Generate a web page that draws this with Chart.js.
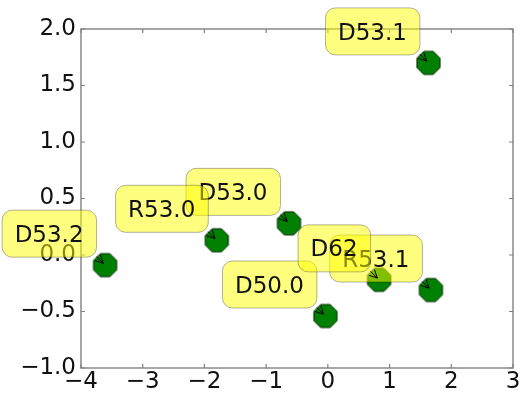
<!DOCTYPE html>
<html>
<head>
<meta charset="utf-8">
<script src="https://cdn.jsdelivr.net/npm/chart.js@4/dist/chart.umd.min.js"></script>
<style>
html,body{margin:0;padding:0;background:#fff;}
canvas{display:block;}
</style>
</head>
<body>
<canvas id="c" width="528" height="397"></canvas>
<script>
// ---- data ----
const labels = ['D53.1', 'D53.2', 'D53.0', 'R53.0', 'D50.0', 'R53.1', 'D62'];
const xValues = [1.63, -3.61, -0.63, -1.80, -0.04, 1.67, 0.83];
const yValues = [1.70, -0.09, 0.28, 0.13, -0.54, -0.31, -0.22];
const xTicks = [-4, -3, -2, -1, 0, 1, 2, 3];
const yTicks = [-1.0, -0.5, 0.0, 0.5, 1.0, 1.5, 2.0];

const FONT = 'DejaVu Sans';
const FSIZE = 23;

// octagon marker
function makeOctagon(r) {
  const s = Math.ceil(r * 2 + 4);
  const cv = document.createElement('canvas');
  cv.width = s; cv.height = s;
  const g = cv.getContext('2d');
  g.beginPath();
  for (let k = 0; k < 8; k++) {
    const a = (22.5 + 45 * k) * Math.PI / 180;
    const x = s / 2 + r * Math.cos(a), y = s / 2 + r * Math.sin(a);
    k === 0 ? g.moveTo(x, y) : g.lineTo(x, y);
  }
  g.closePath();
  g.fillStyle = '#008000';
  g.fill();
  g.lineWidth = 1;
  g.strokeStyle = '#0a2a0a';
  g.stroke();
  return cv;
}
const octagon = makeOctagon(12.5);

const fmt = v => String(v).replace('-', '\u2212');

const framePlugin = {
  id: 'frame',
  afterDatasetsDraw(chart) {
    const { ctx, chartArea: a, scales } = chart;
    ctx.save();
    ctx.strokeStyle = '#808080';
    ctx.lineWidth = 1.4;
    ctx.strokeRect(a.left, a.top, a.right - a.left, a.bottom - a.top);
    ctx.lineWidth = 1.2;
    const tl = 4;
    ctx.beginPath();
    xTicks.forEach(v => {
      const x = scales.x.getPixelForValue(v);
      ctx.moveTo(x, a.bottom); ctx.lineTo(x, a.bottom - tl);
      ctx.moveTo(x, a.top); ctx.lineTo(x, a.top + tl);
    });
    yTicks.forEach(v => {
      const y = scales.y.getPixelForValue(v);
      ctx.moveTo(a.left, y); ctx.lineTo(a.left + tl, y);
      ctx.moveTo(a.right, y); ctx.lineTo(a.right - tl, y);
    });
    ctx.stroke();

    // annotations
    const meta = chart.getDatasetMeta(0);
    ctx.font = FSIZE + 'px "' + FONT + '"';
    meta.data.forEach((el, i) => {
      const px = el.x, py = el.y;
      const txt = labels[i];
      const w = ctx.measureText(txt).width;
      const textRight = px - 21.5;
      const baseline = py - 23.4;
      const left = textRight - w - 12.5, right = px - 8.5;
      const top = py - 55, bottom = py - 8;
      // arrow from text anchor (bottom-right of text) to point, clipped by box
      const ox = px - 20, oy = py - 20;
      const dx = px - ox, dy = py - oy;
      const len = Math.hypot(dx, dy);
      const ux = dx / len, uy = dy / len;
      const t = Math.min((right - ox) / dx, (bottom - oy) / dy);
      const sx = ox + t * dx, sy = oy + t * dy;
      const ex = px - 2.5 * ux, ey = py - 2.5 * uy;
      ctx.strokeStyle = '#000';
      ctx.lineWidth = 1;
      ctx.beginPath();
      ctx.moveTo(sx, sy); ctx.lineTo(ex, ey);
      const hl = 8, hw = 4;
      const bx = ex - hl * ux, by = ey - hl * uy;
      ctx.moveTo(bx - hw * uy, by + hw * ux);
      ctx.lineTo(ex, ey);
      ctx.lineTo(bx + hw * uy, by - hw * ux);
      ctx.stroke();
      // box
      const r = 10;
      ctx.beginPath();
      ctx.moveTo(left + r, top);
      ctx.arcTo(right, top, right, bottom, r);
      ctx.arcTo(right, bottom, left, bottom, r);
      ctx.arcTo(left, bottom, left, top, r);
      ctx.arcTo(left, top, right, top, r);
      ctx.closePath();
      ctx.fillStyle = 'rgba(255,255,0,0.5)';
      ctx.fill();
      ctx.strokeStyle = 'rgba(0,0,0,0.3)';
      ctx.lineWidth = 1;
      ctx.stroke();
      ctx.fillStyle = '#111';
      ctx.textAlign = 'right';
      ctx.textBaseline = 'alphabetic';
      ctx.fillText(txt, textRight, baseline);
    });
    ctx.restore();
  }
};

Chart.defaults.font.family = FONT;
Chart.defaults.font.size = FSIZE;
Chart.defaults.color = '#111';

new Chart(document.getElementById('c'), {
  type: 'scatter',
  data: {
    datasets: [{
      data: xValues.map((x, i) => ({ x: x, y: yValues[i] })),
      pointStyle: octagon,
      pointRadius: 12.5,
      pointHoverRadius: 12.5
    }]
  },
  options: {
    responsive: false,
    animation: false,
    events: [],
    layout: { padding: { left: 0, right: 15, top: 29, bottom: 0 } },
    plugins: { legend: { display: false }, tooltip: { enabled: false } },
    scales: {
      x: {
        type: 'linear', min: -4, max: 3,
        afterBuildTicks: s => { s.ticks = xTicks.map(v => ({ value: v })); },
        afterFit: s => { s.height = 29; },
        grid: { display: false, drawTicks: false },
        border: { display: false },
        ticks: { padding: 0, maxRotation: 0, autoSkip: false, callback: v => fmt(v) }
      },
      y: {
        type: 'linear', min: -1, max: 2,
        afterBuildTicks: s => { s.ticks = yTicks.map(v => ({ value: v })); },
        afterFit: s => { s.width = 81; },
        grid: { display: false, drawTicks: false },
        border: { display: false },
        ticks: { padding: 5, autoSkip: false, callback: v => fmt(v.toFixed(1)) }
      }
    }
  },
  plugins: [framePlugin]
});
</script>
</body>
</html>
